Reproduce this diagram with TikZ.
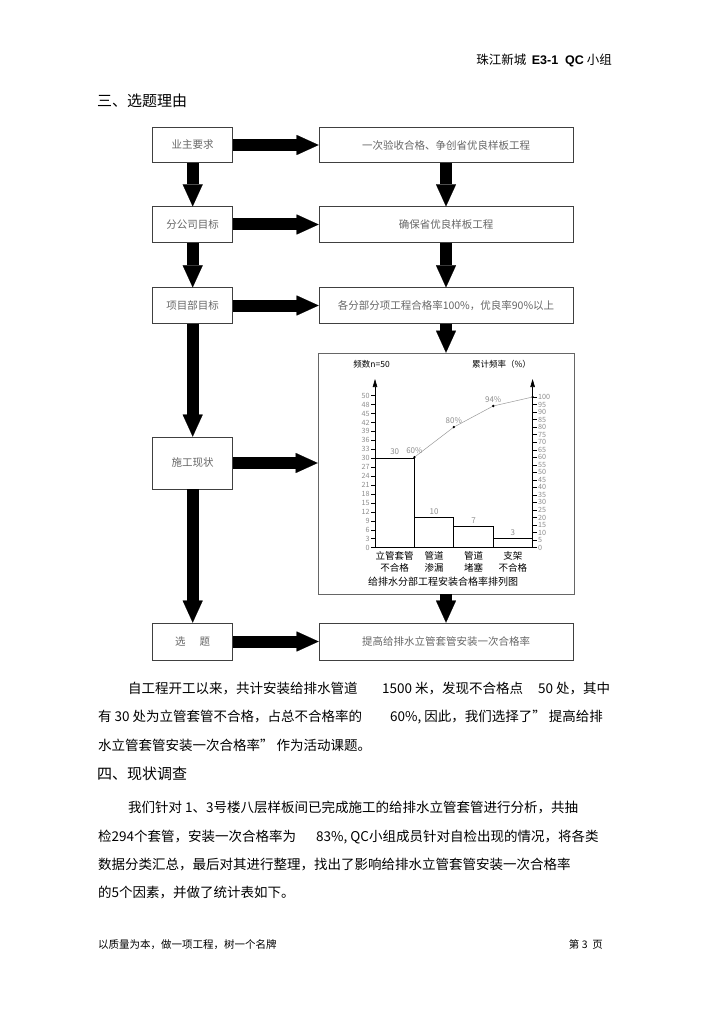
\documentclass[tikz,border=0pt]{standalone}
\usepackage{fontspec}
\setmainfont{Noto Sans CJK SC}
\newfontfamily\latfont{Liberation Sans}
\usetikzlibrary{arrows.meta,positioning}

\begin{document}
\begin{tikzpicture}[x=1pt, y=-1pt,
    box/.style={draw=black!75, line width=0.7pt, minimum height=35.5pt, inner sep=0pt,
        font=\fontsize{10.5}{10.5}\selectfont, text=black!60},
    leftbox/.style={box, minimum width=80pt},
    rightbox/.style={box, minimum width=254pt},
    bigarrow/.style={line width=12pt, -{Triangle[width=20pt,length=22pt,line width=0.1pt]}},
    body/.style={anchor=base west, inner sep=0pt, font=\fontsize{13.5}{13.5}\selectfont},
    head/.style={anchor=base west, inner sep=0pt, font=\fontsize{15}{15}\selectfont},
    tick/.style={font=\fontsize{7.2}{7.2}\selectfont, text=black!45, inner sep=1.2pt},
    chartlbl/.style={font=\fontsize{9.5}{9.5}\selectfont, inner sep=0pt}]

\useasboundingbox (0,0) rectangle (724,1024);

\node[anchor=base east, inner sep=0pt, font=\fontsize{12.5}{12.5}\selectfont] (header) at (612,65)
    {珠江新城\ \ {\latfont\bfseries E3-1\ \ QC} 小组};
\node[head] (sec3) at (97,107) {三、选题理由};

\node[leftbox] (owner) at (192.7,145) {业主要求};
\node[rightbox] (ownergoal) at (446,145) {一次验收合格、争创省优良样板工程};
\node[leftbox] (branch) at (192.7,224.5) {分公司目标};
\node[rightbox] (branchgoal) at (446,224.5) {确保省优良样板工程};
\node[leftbox] (dept) at (192.7,305.5) {项目部目标};
\node[rightbox] (deptgoal) at (446,305.5) {各分部分项工程合格率100\%，优良率90\%以上};
\node[leftbox, minimum height=52pt] (status) at (192.7,463) {施工现状};
\node[draw=black!60, line width=0.6pt, minimum width=256pt, minimum height=241pt, inner sep=0pt] (chart) at (446,473.5) {};
\node[leftbox, minimum height=37pt] (topic) at (192.7,641.5) {选\hspace{14pt}题};
\node[rightbox, minimum height=37pt] (topicgoal) at (446,641.5) {提高给排水立管套管安装一次合格率};

\foreach \a/\b in {owner/ownergoal, branch/branchgoal, dept/deptgoal, topic/topicgoal,
                   owner/branch, branch/dept, dept/status, status/topic,
                   ownergoal/branchgoal, branchgoal/deptgoal, deptgoal/chart, chart/topicgoal}
    \draw[bigarrow] (\a) -- (\b);
\draw[bigarrow] (status) -- (status -| chart.west);

% pareto chart
\begin{scope}[shift={(375,547.6)}, yscale=-1]
    \draw[line width=0.6pt, -{Triangle[width=4.5pt,length=8pt]}] (0,0) -- (0,168.6);
    \draw[line width=0.6pt, -{Triangle[width=4.5pt,length=8pt]}] (157.6,0) -- (157.6,168.6);
    \foreach \i in {0,...,16} {
        \pgfmathtruncatemacro\v{3*\i}
        \draw[line width=0.4pt] (0,\i*8.94) -- (-4,\i*8.94) node[left, tick] (fl\i) {\v};
    }
    \draw[line width=0.4pt] (0,152) -- (-4,152) node[left, tick] (fl17) {50};
    \foreach \i in {0,...,20} {
        \pgfmathtruncatemacro\v{5*\i}
        \draw[line width=0.4pt] (157.6,\i*7.53) -- (161.6,\i*7.53) node[right, tick] (cl\i) {\v};
    }
    \foreach \n/\h in {0/30, 1/10, 2/7, 3/3} {
        \draw[line width=0.7pt] (\n*39.4,0) rectangle (\n*39.4+39.4,\h*2.98);
        \node[above=2pt, tick, font=\fontsize{8}{8}\selectfont] (bar\n) at (\n*39.4+19.7,\h*2.98) {\h};
    }
    \draw[black!40, line width=0.5pt] (39.4,90.4) -- (78.8,120.5) -- (118.2,141.6) -- (157.6,150.6);
    \foreach \px/\py/\t in {39.4/90.4/60, 78.8/120.5/80, 118.2/141.6/94} {
        \fill (\px,\py) circle (1.3pt);
        \node[above=2pt, tick, font=\fontsize{8}{8}\selectfont] (p\t) at (\px,\py) {\t\%};
    }
    \fill (157.6,150.6) circle (1.3pt);
    \foreach \n/\ta/\tb in {0/立管套管/不合格, 1/管道/渗漏, 2/管道/堵塞, 3/支架/不合格} {
        \node[chartlbl] (cat\n) at (\n*39.4+19.7,-8.5) {\ta};
        \node[chartlbl] (catb\n) at (\n*39.4+19.7,-20.5) {\tb};
    }
    \node[chartlbl, font=\fontsize{10}{10}\selectfont] (ctitle) at (68,-34.5) {给排水分部工程安装合格率排列图};
    \node[chartlbl, font=\fontsize{8.5}{8.5}\selectfont] (ylab) at (-3.4,183) {频数n=50};
    \node[chartlbl, font=\fontsize{8.5}{8.5}\selectfont] (clab) at (126.5,183) {累计频率（\%）};
\end{scope}

\node[body] (l1a) at (128,693) {自工程开工以来，共计安装给排水管道};
\node[body] (l1b) at (382,693) {1500 米，发现不合格点};
\node[body] (l1c) at (538,693) {50 处，其中};
\node[body] (l2a) at (98,721) {有 30 处为立管套管不合格，占总不合格率的};
\node[body] (l2b) at (390,721) {60\%, 因此，我们选择了” 提高给排};
\node[body] (l3) at (98,750) {水立管套管安装一次合格率” 作为活动课题。};
\node[head] (sec4) at (97,779) {四、现状调查};
\node[body] (m1) at (128,812) {我们针对 1、3号楼八层样板间已完成施工的给排水立管套管进行分析，共抽};
\node[body] (m2a) at (98,841) {检294个套管，安装一次合格率为};
\node[body] (m2b) at (316,841) {83\%, QC小组成员针对自检出现的情况，将各类};
\node[body] (m3) at (98,869) {数据分类汇总，最后对其进行整理，找出了影响给排水立管套管安装一次合格率};
\node[body] (m4) at (98,897) {的5个因素，并做了统计表如下。};

\node[anchor=base west, inner sep=0pt, font=\fontsize{10.5}{10.5}\selectfont] (foot) at (98,948) {以质量为本，做一项工程，树一个名牌};
\node[anchor=base east, inner sep=0pt, font=\fontsize{10.5}{10.5}\selectfont] (page) at (603,948) {第 3\ \ 页};
\end{tikzpicture}
\end{document}
